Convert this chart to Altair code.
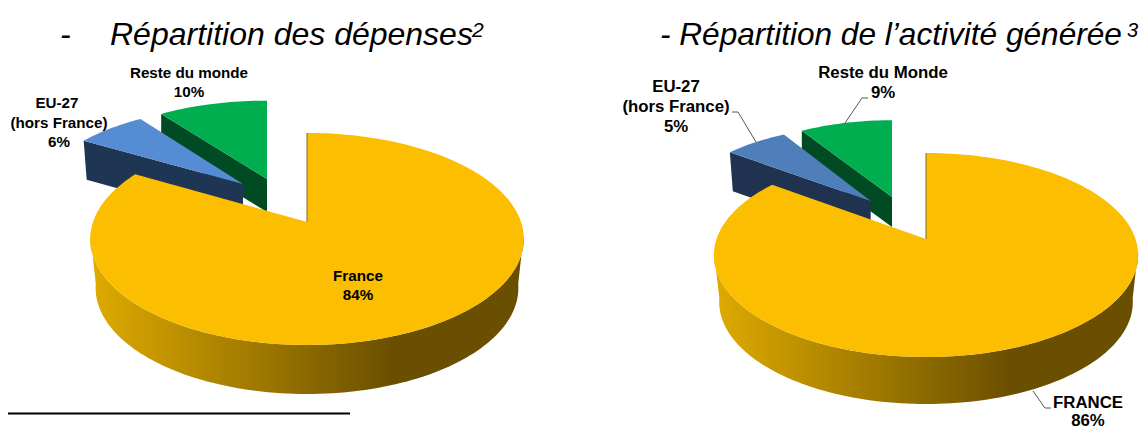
import math
import altair as alt
import pandas as pd

# ---- values
categories = ["Reste du monde", "EU-27", "France"]
shares_depenses = [10, 6, 84]
shares_activite = [9, 5, 86]

title_left = "Répartition des dépenses"
title_right = "- Répartition de l’activité générée"

labels_left = ["Reste du monde", "10%", "EU-27", "(hors France)", "6%", "France", "84%"]
labels_right = ["Reste du Monde", "9%", "EU-27", "(hors France)", "5%", "FRANCE", "86%"]

# ---- layout (page pixels)
MARGIN = 8
GOLD, GREEN, DGREEN = "#FCBE00", "#00AE50", "#004A24"
WALL_STOPS = [
    alt.GradientStop(offset=0, color="#DFAB00"),
    alt.GradientStop(offset=0.70, color="#6A4F00"),
    alt.GradientStop(offset=1, color="#6A4F00"),
]

pie_left = dict(ax=307, ay=222, A=214, B=103.3, k=0.16, d=49, shrink=0.975,
                blue="#558CD4", navy="#1F3554", gold_trim=2.5, blue_spread=1.0,
                green_pos=(267, 179), green_s=(0.95, 0.88), green_d=33,
                blue_pos=(243, 184), blue_s=(0.945, 0.87), blue_d=39)
pie_right = dict(ax=926, ay=239, A=209.5, B=99.5, k=0.157, d=47, shrink=0.975,
                 blue="#4F7FBA", navy="#1F3350", gold_trim=3.0, blue_spread=2.0,
                 green_pos=(892, 197), green_s=(0.91, 0.893), green_d=30,
                 blue_pos=(870.7, 201), blue_s=(0.93, 0.88), blue_d=39)

label_pos_left = [(189, 78), (189, 97), (57, 108), (59, 128), (59, 147), (358, 281), (358, 300)]
label_pos_right = [(883, 78), (883, 98), (676, 92), (676, 112), (676, 132), (1088, 408), (1088, 426)]

proj = alt.Projection(type="identity", reflectY=False, scale=1, translate=[0, 0])


def disk(theta, p, ax=None, ay=None, sx=1.0, sy=1.0):
    """Perspective view of a point on the unit disk; theta in degrees clockwise from the top."""
    t = math.radians(theta)
    u, v = math.sin(t), -math.cos(t)
    w = 1 - p["k"] * v
    ax = p["ax"] if ax is None else ax
    ay = p["ay"] if ay is None else ay
    return (ax + p["A"] * sx * u / w, ay + p["B"] * sy * v / w)


def page(points):
    return [[x - MARGIN, y - MARGIN] for x, y in points]


def poly(points, **mark):
    ring = page(points)
    ring.append(ring[0])
    feature = {"type": "Feature", "properties": {},
               "geometry": {"type": "Polygon", "coordinates": [ring]}}
    return alt.Chart(alt.Data(values=[feature])).mark_geoshape(strokeWidth=0, **mark).properties(projection=proj)


def line(points, color, width):
    feature = {"type": "Feature", "properties": {},
               "geometry": {"type": "LineString", "coordinates": page(points)}}
    return alt.Chart(alt.Data(values=[feature])).mark_geoshape(
        filled=False, stroke=color, strokeWidth=width).properties(projection=proj)


def arc_range(a, b, step=1.5):
    n = max(2, int(abs(b - a) / step))
    return [a + (b - a) * i / n for i in range(n + 1)]


def pie(shares, p):
    green_share, blue_share, gold_share = shares
    g_deg, b_deg = green_share * 3.6, blue_share * 3.6
    layers = []

    # exploded green slice
    gx, gy = p["green_pos"]
    sx, sy = p["green_s"]
    rim = [disk(t, p, gx, gy, sx, sy) for t in arc_range(-g_deg, 0)]
    d = p["green_d"]
    layers.append(poly([rim[0], (gx, gy), (gx, gy + d), (rim[0][0], rim[0][1] + d)], fill=DGREEN))
    layers.append(poly([(gx, gy)] + rim, fill=GREEN))

    # exploded blue slice
    bx, by = p["blue_pos"]
    sx, sy = p["blue_s"]
    s = p["blue_spread"]
    rim = [disk(t, p, bx, by, sx, sy) for t in arc_range(-g_deg - b_deg - s, -g_deg + s)]
    d = p["blue_d"]
    layers.append(poly([rim[0], (bx, by), (bx, by + d), (rim[0][0] + 3, rim[0][1] + d)], fill=p["navy"]))
    layers.append(poly([(bx, by)] + rim, fill=p["blue"]))

    # large gold slice: outer wall, top, inner edge
    low = dict(p)
    low["A"] = p["A"] * p["shrink"]
    top_arc = [disk(t, p) for t in arc_range(97, 263)]
    bot_arc = [disk(t, low, p["ax"], p["ay"] + p["d"]) for t in arc_range(263, 97)]
    layers.append(poly(top_arc + bot_arc,
                       fill=alt.LinearGradient(gradient="linear", stops=WALL_STOPS,
                                               x1=0, x2=1, y1=0, y2=0)))
    rim = [disk(t, p) for t in arc_range(0, gold_share * 3.6 - p["gold_trim"])]
    layers.append(poly([(p["ax"], p["ay"])] + rim, fill=GOLD))
    layers.append(line([rim[0], (p["ax"], p["ay"])], "#7C6A2A", 1))
    return layers


def texts(items, size, color="#000000", weight="bold", style="normal", align="center"):
    df = pd.DataFrame([{"lon": x - MARGIN, "lat": y - MARGIN, "label": s} for s, (x, y) in items])
    return alt.Chart(df).mark_text(
        font="Liberation Sans", fontSize=size, fontWeight=weight, fontStyle=style,
        color=color, align=align, baseline="alphabetic",
    ).encode(longitude="lon:Q", latitude="lat:Q", text="label:N").properties(projection=proj)


layers = []
layers += pie(shares_depenses, pie_left)
layers += pie(shares_activite, pie_right)

# leader lines and footnote rule
layers.append(line([(732, 112), (738, 112), (756, 142)], "#555555", 1))
layers.append(line([(868, 98), (862, 98), (845, 123)], "#555555", 1))
layers.append(line([(1033, 391), (1045, 408), (1051, 408)], "#555555", 1))
layers.append(line([(0, 413.5), (350, 413.5)], "#000000", 2))

# slice labels
layers.append(texts(list(zip(labels_left, label_pos_left)), 15.2))
layers.append(texts(list(zip(labels_right, label_pos_right)), 16.8))

# headings
layers.append(texts([("-", (60, 45))], 32, weight="normal", style="italic", align="left"))
layers.append(texts([(title_left, (110, 45))], 32, weight="normal", style="italic", align="left"))
layers.append(texts([(title_right, (660, 45))], 31.6, weight="normal", style="italic", align="left"))
layers.append(texts([("2", (472, 37))], 21, weight="normal", style="italic", align="left"))
layers.append(texts([("3", (1127, 37))], 20, weight="normal", style="italic", align="left"))

chart = (
    alt.layer(*layers)
    .properties(width=1131, height=421, padding=0, autosize="none", background="white")
    .configure_view(stroke=None)
)

chart.save("out.html", embed_options={"renderer": "svg", "actions": False})
